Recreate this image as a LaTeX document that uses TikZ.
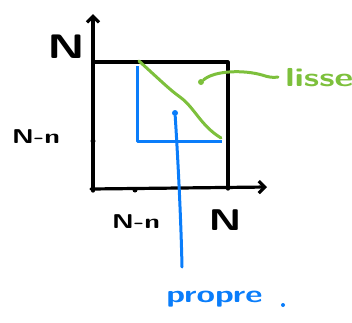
\documentclass[tikz,border=0pt]{standalone}
\usetikzlibrary{arrows.meta}
\definecolor{lgreen}{RGB}{125,192,60}
\definecolor{pblue}{RGB}{10,125,250}
\begin{document}
\begin{tikzpicture}[x=1pt,y=-1pt,
  ax/.style={line width=3.2pt,line cap=round,line join=round},
  lab/.style={font=\sffamily\bfseries,inner sep=0pt},
  wide/.style={xscale=1.4,transform shape},
  dotb/.style={circle,fill=#1,inner sep=0pt,minimum size=6pt}]
\useasboundingbox (0,0) rectangle (352,322);
% axes
\coordinate (O) at (93,189);
\coordinate (ytop) at (93,14);
\coordinate (xend) at (267,187);
\draw[ax,-{Straight Barb[length=6pt,width=12pt]}] (93,191) -- (ytop);
\draw[ax,-{Straight Barb[length=6pt,width=12pt]}] (91,189) -- (xend);
% square
\coordinate (tl) at (93,62);
\coordinate (tr) at (228,62);
\coordinate (br) at (228,189);
\draw[ax] (tl) -- (tr) -- (br);
% ticks
\node[dotb=black,minimum size=5pt] (ty) at (93,141) {};
\node[dotb=black,minimum size=5pt] (tx) at (135,190) {};
% blue L
\coordinate (b1) at (137,66);
\coordinate (b2) at (137,141);
\coordinate (b3) at (222,141);
\draw[pblue,line width=3pt,line join=round] (b1) -- (b2) -- (b3);
% green diagonal
\coordinate (g1) at (139,61);
\coordinate (g2) at (221,138);
\draw[lgreen,line width=3pt,line cap=round] (g1) .. controls (160,80) and (170,90) .. (180,97) .. controls (195,108) and (200,125) .. (g2);
% labels
\node[lab,font=\sffamily\bfseries\fontsize{34}{34}\selectfont,wide] (N1) at (66,47) {N};
\node[lab,font=\sffamily\bfseries\fontsize{20}{20}\selectfont,wide] (Nn1) at (36,137) {N-n};
\node[lab,font=\sffamily\bfseries\fontsize{20}{20}\selectfont,wide] (Nn2) at (136,222) {N-n};
\node[lab,font=\sffamily\bfseries\fontsize{30}{30}\selectfont,wide] (N2) at (225,220) {N};
\node[lab,text=lgreen,font=\sffamily\bfseries\fontsize{26}{26}\selectfont,anchor=west,wide] (lisse) at (285,78) {lisse};
\node[lab,text=pblue,font=\sffamily\bfseries\fontsize{24}{24}\selectfont,anchor=west,wide] (propre) at (166,299) {propre};
\node[dotb=pblue,minimum size=4pt] (pdot) at (283,305) {};
% callouts
\node[dotb=lgreen] (gd) at (201,82) {};
\draw[lgreen,line width=3pt,line cap=round] (gd) .. controls (215,70) and (245,70) .. (262,75) .. controls (268,77) and (273,78) .. (278,77);
\node[dotb=pblue] (bd) at (175,113) {};
\draw[pblue,line width=3pt,line cap=round] (bd) .. controls (178,160) and (181,220) .. (182,267);
\end{tikzpicture}
\end{document}
